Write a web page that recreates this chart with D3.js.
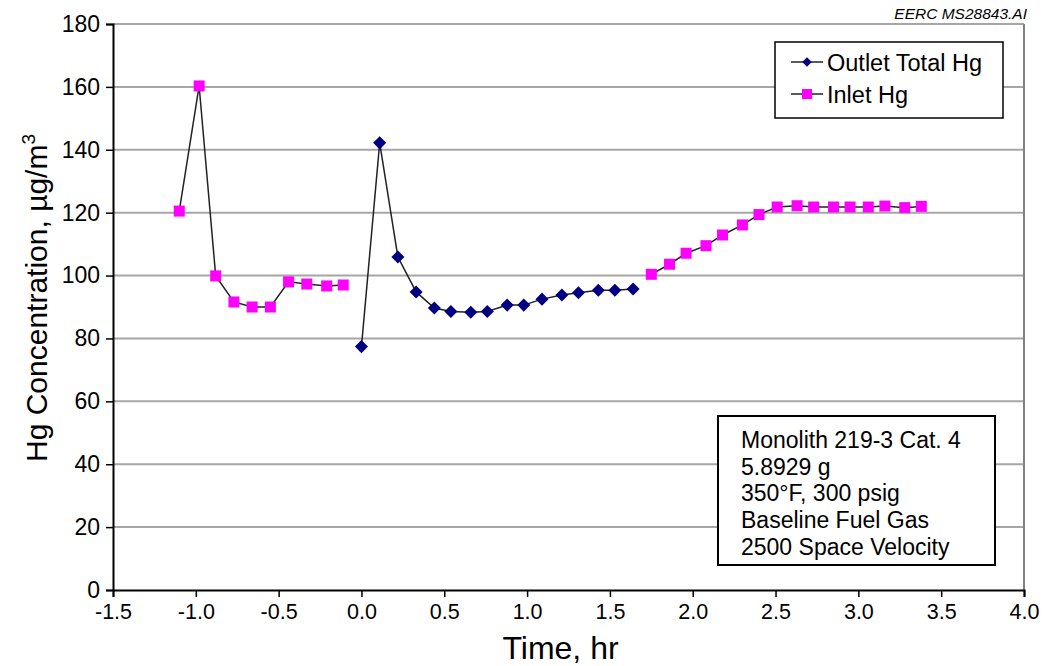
<!DOCTYPE html>
<html>
<head>
<meta charset="utf-8">
<title>Hg Concentration</title>
<script src="https://cdn.jsdelivr.net/npm/d3@7"></script>
<style>
  body { margin: 0; background: #fff; }
  text { font-family: "Liberation Sans", Arial, Helvetica, sans-serif; fill: #000; }
</style>
</head>
<body>
<script>
// time (hr) and concentrations
var inletTime1 = [-1.10, -0.98, -0.88, -0.77, -0.66, -0.55, -0.44, -0.33, -0.21, -0.11];
var inletHg1   = [120.5, 160.3, 99.9, 91.6, 90.0, 90.0, 98.0, 97.3, 96.7, 97.0];

var outletTime = [0.00, 0.11, 0.22, 0.33, 0.44, 0.54, 0.66, 0.76, 0.88, 0.98, 1.09, 1.21, 1.31, 1.43, 1.53, 1.64];
var outletHg   = [77.4, 142.2, 105.9, 94.8, 89.7, 88.6, 88.3, 88.6, 90.6, 90.6, 92.5, 93.8, 94.5, 95.3, 95.3, 95.7];

var inletTime2 = [1.75, 1.86, 1.96, 2.08, 2.18, 2.30, 2.40, 2.51, 2.63, 2.73, 2.85, 2.95, 3.06, 3.16, 3.28, 3.38];
var inletHg2   = [100.4, 103.6, 107.1, 109.5, 112.9, 116.1, 119.4, 121.8, 122.2, 121.8, 121.8, 121.8, 121.8, 122.1, 121.6, 122.0];

var xTicks = [-1.5, -1.0, -0.5, 0.0, 0.5, 1.0, 1.5, 2.0, 2.5, 3.0, 3.5, 4.0];
var yTicks = [0, 20, 40, 60, 80, 100, 120, 140, 160, 180];
var seriesNames = ["Outlet Total Hg", "Inlet Hg"];
var noteLines = ["Monolith 219-3 Cat. 4", "5.8929 g", "350\u00b0F, 300 psig", "Baseline Fuel Gas", "2500 Space Velocity"];

var width = 1049, height = 666;
var plotL = 113, plotR = 1024, plotT = 24, plotB = 590;

var svg = d3.select("body").append("svg")
    .attr("width", width)
    .attr("height", height);

var x = d3.scaleLinear().domain([-1.5, 4.0]).range([plotL, plotR]);
var y = d3.scaleLinear().domain([0, 180]).range([plotB, plotT]);

// gridlines
svg.append("g").selectAll("line")
    .data(yTicks.slice(1))
    .enter().append("line")
    .attr("x1", plotL).attr("x2", plotR)
    .attr("y1", function(d) { return y(d); })
    .attr("y2", function(d) { return y(d); })
    .attr("stroke", "#a6a6a6")
    .attr("stroke-width", 2);

// right border
svg.append("line")
    .attr("x1", plotR).attr("x2", plotR)
    .attr("y1", plotT).attr("y2", plotB)
    .attr("stroke", "#808080").attr("stroke-width", 2);

// axes
var fmt = d3.format(".1f");
var xAxis = svg.append("g")
    .attr("transform", "translate(0," + plotB + ")")
    .call(d3.axisBottom(x).tickValues(xTicks).tickSize(7).tickPadding(7));
xAxis.selectAll("text")
    .style("font-size", "21.5px")
    .text(function(d) { return fmt(d).replace("\u2212", "-"); });

var yAxis = svg.append("g")
    .attr("transform", "translate(" + plotL + ",0)")
    .call(d3.axisLeft(y).tickValues(yTicks).tickSize(7).tickPadding(6));
yAxis.selectAll("text").style("font-size", "23px");

svg.selectAll(".domain").attr("stroke", "#000").attr("stroke-width", 2);
svg.selectAll(".tick line").attr("stroke", "#000").attr("stroke-width", 1.5);

// axis titles
svg.append("text")
    .attr("x", (plotL + plotR) / 2 - 8)
    .attr("y", 659)
    .attr("text-anchor", "middle")
    .style("font-size", "32px")
    .text("Time, hr");

var yt = svg.append("text")
    .attr("transform", "translate(47,298) rotate(-90)")
    .attr("text-anchor", "middle")
    .style("font-size", "30px");
yt.append("tspan").text("Hg Concentration, \u00b5g/m");
yt.append("tspan").attr("dy", -12).style("font-size", "19px").text("3");

svg.append("text")
    .attr("x", 1027).attr("y", 19)
    .attr("text-anchor", "end")
    .style("font-size", "15.5px")
    .style("font-style", "italic")
    .text("EERC MS28843.AI");

// series
var line = d3.line()
    .x(function(d) { return x(d[0]); })
    .y(function(d) { return y(d[1]); });

var inlet1 = d3.zip(inletTime1, inletHg1);
var inlet2 = d3.zip(inletTime2, inletHg2);
var outlet = d3.zip(outletTime, outletHg);

[inlet1, outlet, inlet2].forEach(function(s) {
    svg.append("path")
        .datum(s)
        .attr("d", line)
        .attr("fill", "none")
        .attr("stroke", "#222")
        .attr("stroke-width", 1.5);
});

var diamond = d3.symbol().type(d3.symbolSquare).size(85);

svg.append("g").selectAll("path")
    .data(outlet)
    .enter().append("path")
    .attr("d", diamond)
    .attr("transform", function(d) { return "translate(" + x(d[0]) + "," + y(d[1]) + ") rotate(45)"; })
    .attr("fill", "#000080");

svg.append("g").selectAll("rect")
    .data(inlet1.concat(inlet2))
    .enter().append("rect")
    .attr("x", function(d) { return x(d[0]) - 5.5; })
    .attr("y", function(d) { return y(d[1]) - 5.5; })
    .attr("width", 11).attr("height", 11)
    .attr("fill", "#ff00ff");

// legend
var lg = svg.append("g").attr("transform", "translate(775,42)");
lg.append("rect")
    .attr("width", 228).attr("height", 76)
    .attr("fill", "#fff").attr("stroke", "#000").attr("stroke-width", 1.5);

var rows = lg.selectAll("g.row")
    .data(seriesNames)
    .enter().append("g")
    .attr("transform", function(d, i) { return "translate(0," + (20 + i * 32) + ")"; });
rows.append("line")
    .attr("x1", 16).attr("x2", 48)
    .attr("stroke", "#222").attr("stroke-width", 1.5);
rows.filter(function(d, i) { return i === 0; }).append("path")
    .attr("d", d3.symbol().type(d3.symbolSquare).size(45))
    .attr("transform", "translate(32,0) rotate(45)")
    .attr("fill", "#000080");
rows.filter(function(d, i) { return i === 1; }).append("rect")
    .attr("x", 27).attr("y", -5).attr("width", 10).attr("height", 10)
    .attr("fill", "#ff00ff");
rows.append("text")
    .attr("x", 52).attr("y", 8.5)
    .style("font-size", "23.5px")
    .text(function(d) { return d; });

// note box
var nb = svg.append("g").attr("transform", "translate(718,416)");
nb.append("rect")
    .attr("width", 277).attr("height", 149)
    .attr("fill", "#fff").attr("stroke", "#000").attr("stroke-width", 2);
nb.selectAll("text")
    .data(noteLines)
    .enter().append("text")
    .attr("x", 23)
    .attr("y", function(d, i) { return 32 + i * 26.7; })
    .style("font-size", "23px")
    .text(function(d) { return d; });
</script>
</body>
</html>
